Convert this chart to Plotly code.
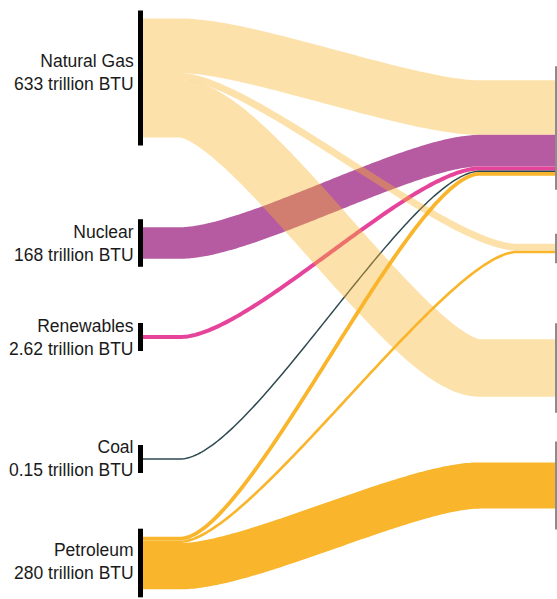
import numpy as np
import plotly.graph_objects as go

# ---------------- data ----------------
sources = ["Natural Gas", "Nuclear", "Renewables", "Coal", "Petroleum"]
source_totals = [633, 168, 2.62, 0.15, 280]          # trillion BTU
source_total_labels = ["633", "168", "2.62", "0.15", "280"]

targets = ["Electric Power", "Commercial", "Industrial", "Transportation"]

link_source = [0, 0, 0, 1, 2, 3, 4, 4, 4]
link_target = [0, 1, 2, 0, 0, 0, 0, 1, 3]
link_value = [290, 37, 306, 168, 2.62, 0.15, 20, 14, 246]

# ---------------- layout / style ----------------
W, H = 557, 599
PX_PER_UNIT = 0.188          # px of link thickness per trillion BTU
MIN_WIDTH = {2: 4.0, 3: 1.5}  # minimum drawn thickness for tiny sources
LEFT_X = 143                 # right edge of the source bars
RIGHT_X = 555                # left edge of the target bars
CURVE_START = 180
CURVE_END = [480, 517, 480, 480]
CTRL = 70
LEFT_CENTER = [78, 243, 337, 459, 563]
RIGHT_CENTER = [128, 248.5, 368, 485.5]
LABEL_DY = [-6, 0, 0, -1, -2]
LEFT_PAD, LEFT_MIN_HALF = 8, 14
RIGHT_PAD = [14, 10, 16, 21]
RIGHT_MIN_HALF = 13

SOURCE_COLORS = ["rgba(249,181,42,0.4)", "#B65BA1", "#E5449A", "#2E4A50", "#F9B52B"]
BAR_COLOR = "#000000"
TARGET_BAR_COLOR = "#8C8C8C"
FONT = "Liberation Sans, Arial, Helvetica, sans-serif"


def width_of(i):
    w = link_value[i] * PX_PER_UNIT
    return max(w, MIN_WIDTH.get(link_source[i], 0))


widths = [width_of(i) for i in range(len(link_value))]

# stack links at sources (ordered by target) and targets (ordered by source)
src_total_px = [sum(widths[i] for i in range(len(widths)) if link_source[i] == s) for s in range(len(sources))]
tgt_total_px = [sum(widths[i] for i in range(len(widths)) if link_target[i] == t) for t in range(len(targets))]

y_src, y_tgt = {}, {}
for s in range(len(sources)):
    y = LEFT_CENTER[s] - src_total_px[s] / 2
    for i in sorted([i for i in range(len(widths)) if link_source[i] == s], key=lambda i: link_target[i]):
        y_src[i] = y + widths[i] / 2
        y += widths[i]
for t in range(len(targets)):
    y = RIGHT_CENTER[t] - tgt_total_px[t] / 2
    for i in sorted([i for i in range(len(widths)) if link_target[i] == t], key=lambda i: link_source[i]):
        y_tgt[i] = y + widths[i] / 2
        y += widths[i]


def link_path(i):
    y0, y1 = y_src[i], y_tgt[i]
    xa, xb = CURVE_START, CURVE_END[link_target[i]]
    t = np.linspace(0, 1, 120)
    p0, p1, p2, p3 = (xa, y0), (xa + CTRL, y0), (xb - CTRL, y1), (xb, y1)
    bx = ((1 - t) ** 3) * p0[0] + 3 * ((1 - t) ** 2) * t * p1[0] + 3 * (1 - t) * t ** 2 * p2[0] + t ** 3 * p3[0]
    by = ((1 - t) ** 3) * p0[1] + 3 * ((1 - t) ** 2) * t * p1[1] + 3 * (1 - t) * t ** 2 * p2[1] + t ** 3 * p3[1]
    xs = [LEFT_X] + list(bx) + [RIGHT_X + 1]
    ys = [y0] + list(by) + [y1]
    return xs, ys


fig = go.Figure()

# links: solid sources first, translucent natural gas on top
order = [i for i in range(len(widths)) if link_source[i] != 0] + [i for i in range(len(widths)) if link_source[i] == 0]
for i in order:
    xs, ys = link_path(i)
    fig.add_trace(go.Scatter(
        x=xs, y=ys, mode="lines",
        line=dict(color=SOURCE_COLORS[link_source[i]], width=widths[i], simplify=False),
        hoverinfo="text",
        text=f"{sources[link_source[i]]} → {targets[link_target[i]]}: {link_value[i]} trillion BTU",
        showlegend=False,
    ))

# source bars
for s in range(len(sources)):
    half = max(src_total_px[s] / 2 + LEFT_PAD, LEFT_MIN_HALF)
    fig.add_trace(go.Scatter(
        x=[LEFT_X - 2.5, LEFT_X - 2.5], y=[LEFT_CENTER[s] - half, LEFT_CENTER[s] + half],
        mode="lines", line=dict(color=BAR_COLOR, width=5), hoverinfo="skip", showlegend=False,
    ))
    fig.add_annotation(
        x=LEFT_X - 7, y=LEFT_CENTER[s] + LABEL_DY[s], xref="x", yref="y",
        text=f"{sources[s]}<br>{source_total_labels[s]} trillion BTU",
        showarrow=False, xanchor="right", yanchor="middle", align="right",
        font=dict(family=FONT, size=17.5, color="#1a1a1a"),
    )

# target bars
for t in range(len(targets)):
    half = max(tgt_total_px[t] / 2 + RIGHT_PAD[t], RIGHT_MIN_HALF)
    fig.add_trace(go.Scatter(
        x=[RIGHT_X + 1, RIGHT_X + 1], y=[RIGHT_CENTER[t] - half, RIGHT_CENTER[t] + half],
        mode="lines", line=dict(color=TARGET_BAR_COLOR, width=2), hoverinfo="text",
        text=targets[t], showlegend=False,
    ))

fig.update_layout(
    autosize=False,
    width=W, height=H,
    margin=dict(l=0, r=0, t=0, b=0),
    paper_bgcolor="white", plot_bgcolor="white",
    xaxis=dict(range=[0, W], visible=False, fixedrange=True),
    yaxis=dict(range=[H, 0], visible=False, fixedrange=True),
)

fig.write_html(
    "out.html",
    config={"responsive": False, "displayModeBar": False},
    post_script="document.body.style.margin='0';document.body.style.overflow='hidden';",
)
